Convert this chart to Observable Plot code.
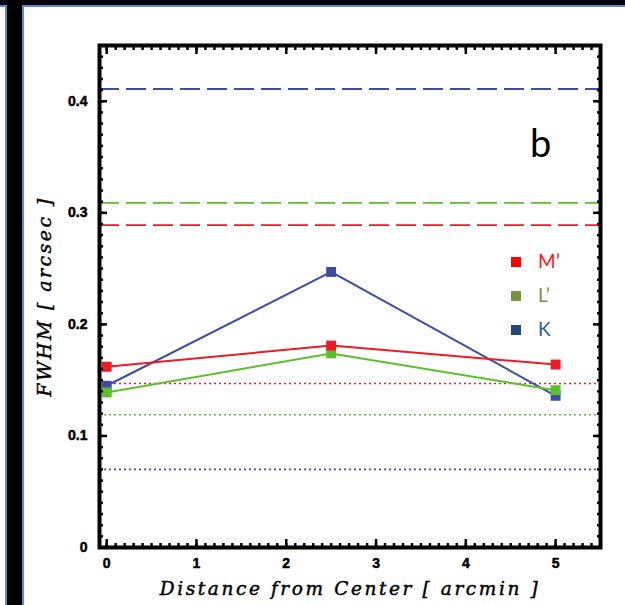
<!DOCTYPE html>
<html>
<head>
<meta charset="utf-8">
<script src="https://cdn.jsdelivr.net/npm/d3@7"></script>
<script src="https://cdn.jsdelivr.net/npm/@observablehq/plot@0.6"></script>
<style>
  html, body { margin: 0; padding: 0; background: #fff; }
  #wrap { position: relative; width: 625px; height: 605px; overflow: hidden; background: #fff; }
  #wrap svg { position: absolute; left: 0; top: 0; }
  .edge { position: absolute; }
  .legend-row { position: absolute; left: 511px; height: 20px; }
  .legend-row .sw { position: absolute; left: 0; top: 5px; width: 10px; height: 10px; }
  .legend-row .lb { position: absolute; left: 27px; top: -3px; font-family: Lato, "Noto Sans", sans-serif; font-size: 19px; line-height: 24px; white-space: nowrap; }
  #panel { position: absolute; left: 530px; top: 123px; font-family: Lato, "Noto Sans", sans-serif; font-size: 38px; line-height: 38px; color: #000; }
</style>
</head>
<body>
<div id="wrap"></div>
<script>
// Measured image quality (FWHM) against distance from the field centre
const distances = [0, 2.5, 5];
const fwhmM = [0.162, 0.181, 0.164];
const fwhmL = [0.139, 0.174, 0.141];
const fwhmK = [0.145, 0.247, 0.136];

const bandNames = ["M’", "L’", "K"];
const lineColors = ["#ec1c24", "#5cbf2e", "#3b4ea6"];
const legendSwatch = ["#ff0000", "#77933c", "#1f497d"];
const legendText = ["#ff1515", "#77933c", "#2e5896"];

// Reference levels per band: dashed (upper) and dotted (lower)
const dashedLevels = [0.289, 0.309, 0.411];
const dottedLevels = [0.147, 0.119, 0.070];

const xTicks = [0, 1, 2, 3, 4, 5];
const yTicks = [0, 0.1, 0.2, 0.3, 0.4];
const xMinor = d3.range(0, 55).map(i => i / 10);
const yMinor = d3.range(0, 45).map(i => i / 100);

const xTitle = "Distance from Center [ arcmin ]";
const yTitle = "FWHM [ arcsec ]";
const panelLetter = "b";

// Tidy rows, drawn K first so that M' ends up on top
const bandValues = [fwhmM, fwhmL, fwhmK];
const drawOrder = [2, 1, 0];
const rows = drawOrder.flatMap(b =>
  distances.map((d, i) => ({band: bandNames[b], distance: d, fwhm: bandValues[b][i]}))
);
const dashedRows = dashedLevels.map((v, i) => ({band: bandNames[i], level: v}));
const dottedRows = dottedLevels.map((v, i) => ({band: bandNames[i], level: v}));

const tickFont = {
  fontFamily: "Liberation Sans, Arial, sans-serif", fontWeight: "bold", fontSize: 14,
  textStroke: "black", textStrokeWidth: 0.5
};
const tickStroke = {strokeWidth: 2.5, stroke: "black"};
const blank = () => "";
const titleFont = {fontFamily: "DejaVu Serif", fontStyle: "italic", fill: "black", stroke: "black", strokeWidth: 0.45, textAnchor: "middle"};

const chart = Plot.plot({
  width: 625,
  height: 605,
  marginLeft: 99,
  marginRight: 25,
  marginTop: 45,
  marginBottom: 58,
  style: {background: "transparent", overflow: "visible"},
  x: {domain: [-0.08, 5.5], axis: null},
  y: {domain: [0, 0.45], axis: null},
  color: {domain: bandNames, range: lineColors},
  marks: [
    Plot.ruleY(dashedRows, {y: "level", stroke: "band", strokeWidth: 1.8, strokeDasharray: "20,7"}),
    Plot.ruleY(dottedRows, {y: "level", stroke: "band", strokeWidth: 1.6, strokeDasharray: "2,3"}),
    Plot.line(rows, {x: "distance", y: "fwhm", z: "band", stroke: "band", strokeWidth: 2}),
    Plot.dot(rows, {x: "distance", y: "fwhm", fill: "band", symbol: "square", r: 5.6}),

    // tick labels
    Plot.axisX(xTicks, {anchor: "bottom", tickSize: 0, tickPadding: 11, label: null, tickFormat: d => String(d), ...tickFont}),
    Plot.axisY(yTicks, {anchor: "left", tickSize: 0, tickPadding: 12, label: null, tickFormat: d => d === 0 ? "0" : d3.format(".1f")(d), ...tickFont}),

    // inward ticks on all four sides
    Plot.axisX(xMinor, {anchor: "bottom", tickSize: -4, tickFormat: blank, label: null, ...tickStroke}),
    Plot.axisX(xTicks, {anchor: "bottom", tickSize: -8, tickFormat: blank, label: null, ...tickStroke}),
    Plot.axisX(xMinor, {anchor: "top", tickSize: -4, tickFormat: blank, label: null, ...tickStroke}),
    Plot.axisX(xTicks, {anchor: "top", tickSize: -8, tickFormat: blank, label: null, ...tickStroke}),
    Plot.axisY(yMinor, {anchor: "left", tickSize: -4, tickFormat: blank, label: null, ...tickStroke}),
    Plot.axisY(yTicks, {anchor: "left", tickSize: -8, tickFormat: blank, label: null, ...tickStroke}),
    Plot.axisY(yMinor, {anchor: "right", tickSize: -4, tickFormat: blank, label: null, ...tickStroke}),
    Plot.axisY(yTicks, {anchor: "right", tickSize: -8, tickFormat: blank, label: null, ...tickStroke}),

    Plot.frame({stroke: "black", strokeWidth: 4}),

    // axis titles
    Plot.text([xTitle], {frameAnchor: "bottom", dy: 47, fontSize: 18.5, ...titleFont}),
    Plot.text([yTitle], {frameAnchor: "left", dx: -55, rotate: -90, fontSize: 19, ...titleFont})
  ]
});

// wider letter spacing for the titles
d3.select(chart).selectAll("text").filter(function () {
  return this.textContent === xTitle || this.textContent === yTitle;
}).style("letter-spacing", function () {
  return this.textContent === xTitle ? "2.6px" : "2.4px";
});

const wrap = document.getElementById("wrap");
wrap.appendChild(chart);

// window border: dark band along top and left edges with light-blue rims
const edges = [
  {left: 0, top: 0, width: 625, height: 5, background: "#000"},
  {left: 0, top: 5, width: 625, height: 2, background: "#5b8bd1"},
  {left: 7, top: 0, width: 15, height: 605, background: "#000"},
  {left: 5, top: 6, width: 2, height: 599, background: "#5b8bd1"},
  {left: 22, top: 6, width: 2, height: 599, background: "#5b8bd1"}
];
for (const e of edges) {
  const div = document.createElement("div");
  div.className = "edge";
  Object.assign(div.style, {left: e.left + "px", top: e.top + "px", width: e.width + "px", height: e.height + "px", background: e.background});
  wrap.appendChild(div);
}

// legend
bandNames.forEach((name, i) => {
  const row = document.createElement("div");
  row.className = "legend-row";
  row.style.top = (252 + i * 34) + "px";
  const sw = document.createElement("div");
  sw.className = "sw";
  sw.style.background = legendSwatch[i];
  const lb = document.createElement("div");
  lb.className = "lb";
  lb.style.color = legendText[i];
  lb.textContent = name;
  row.appendChild(sw);
  row.appendChild(lb);
  wrap.appendChild(row);
});

const panel = document.createElement("div");
panel.id = "panel";
panel.textContent = panelLetter;
wrap.appendChild(panel);
</script>
</body>
</html>
